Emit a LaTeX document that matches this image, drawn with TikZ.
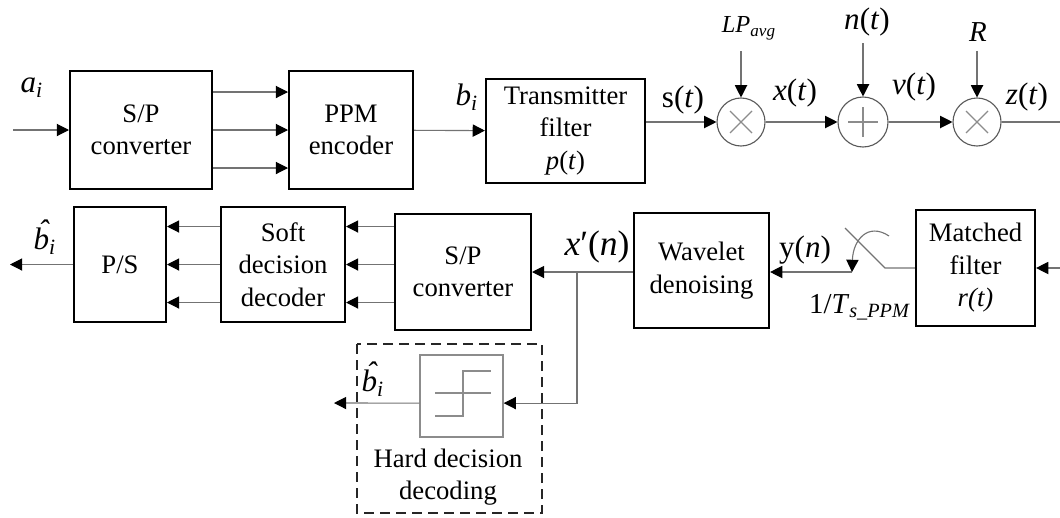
\documentclass[tikz,border=0pt]{standalone}
\usepackage{fontspec}
\setmainfont{Liberation Serif}
\usetikzlibrary{positioning,arrows.meta,calc}
\newcommand{\bhat}{\textit{b\llap{\raisebox{0.28em}{\char"02C6}\kern0.02em}}\textsubscript{\textit{i}}}

\begin{document}
\begin{tikzpicture}[
    x=0.45pt, y=-0.45pt,
    blk/.style={draw, line width=0.9pt, align=center, inner sep=0pt, font=\fontsize{12}{14.6}\selectfont},
    mix/.style={circle, draw=black!65, line width=0.5pt, minimum size=21.6pt, inner sep=0pt},
    sig/.style={draw=black!55, line width=0.5pt, -{Triangle[length=5.5pt,width=5.5pt,color=black]}},
    wire/.style={draw=black!55, line width=0.5pt},
    xline/.style={draw=black!45, line width=0.5pt},
    lbl/.style={font=\fontsize{14}{16}\selectfont, inner sep=1pt},
]
\useasboundingbox (0,0) rectangle (1060,517);

% transmitter chain
\node[blk, minimum width=63.9pt, minimum height=52.7pt] (sp1) at (141,130) {S/P\\converter};
\node[blk, minimum width=55.8pt, minimum height=52.7pt] (ppm) at (351,130) {PPM\\encoder};
\node[blk, minimum width=71.6pt, minimum height=46.8pt] (tx) at (565.5,131) {Transmitter\\filter\\\textit{p}(\textit{t})};
\node[mix] (m1) at (741,122) {};
\node[mix, minimum size=22.5pt] (add) at (863,122) {};
\node[mix] (m2) at (977,122) {};

\node[lbl] (ai) at (32,88) {\textit{a}\textsubscript{\textit{i}}};
\node[lbl] (bi) at (467,97) {\textit{b}\textsubscript{\textit{i}}};
\node[lbl] (st) at (683,100) {s(\textit{t})};
\node[lbl] (xt) at (795,93) {\textit{x}(\textit{t})};
\node[lbl] (vt) at (914,87) {\textit{v}(\textit{t})};
\node[lbl] (zt) at (1027,97) {\textit{z}(\textit{t})};
\node[lbl, font=\fontsize{11}{13}\selectfont] (lp) at (749,28) {\textit{LP}\textsubscript{\textit{avg}}};
\node[lbl] (nt) at (867,22) {\textit{n}(\textit{t})};
\node[lbl, font=\fontsize{13}{15}\selectfont] (rr) at (978,32) {\textit{R}};

\coordinate (ain) at (13,130);
\coordinate (zout) at (1060,122);

% symbols in the circles
\draw[xline] ([shift={(-11,-11)}]m1.center) -- ([shift={(11,11)}]m1.center);
\draw[xline] ([shift={(-11,11)}]m1.center) -- ([shift={(11,-11)}]m1.center);
\draw[xline] ([shift={(-15,0)}]add.center) -- ([shift={(15,0)}]add.center);
\draw[xline] ([shift={(0,-15)}]add.center) -- ([shift={(0,15)}]add.center);
\draw[xline] ([shift={(-11,-11)}]m2.center) -- ([shift={(11,11)}]m2.center);
\draw[xline] ([shift={(-11,11)}]m2.center) -- ([shift={(11,-11)}]m2.center);

\draw[sig] (ain) -- (sp1);
\foreach \dy in {-38,0,38}
    \draw[sig] ([shift={(0,\dy)}]sp1.east) -- ([shift={(0,\dy)}]ppm.west);
\draw[sig] (ppm) -- (tx);
\draw[sig] (tx.east |- m1) -- (m1);
\draw[sig] (m1) -- (add);
\draw[sig] (add) -- (m2);
\draw[wire] (m2) -- (zout);
\draw[sig, shorten <=4pt] (m1 |- lp.south) -- (m1);
\draw[sig, shorten <=2pt] (add |- nt.south) -- (add);
\draw[sig, shorten <=3pt] (m2 |- rr.south) -- (m2);

% receiver chain
\node[blk, minimum width=41.4pt, minimum height=51.8pt] (ps) at (120,264.5) {P/S};
\node[blk, minimum width=55.8pt, minimum height=51.8pt] (soft) at (283,264.5) {Soft\\decision\\decoder};
\node[blk, minimum width=61.2pt, minimum height=52.2pt] (sp2) at (463,272) {S/P\\converter};
\node[blk, minimum width=60.8pt, minimum height=51.8pt] (wav) at (701.5,270.5) {Wavelet\\denoising};
\node[blk, minimum width=53.6pt, minimum height=52.2pt] (mf) at (975.5,268) {Matched\\filter\\\textit{r(t)}};

\node[lbl] (bh1) at (45,237) {\bhat};
\node[lbl, font=\fontsize{16}{18}\selectfont] (xn) at (597,247) {\textit{x}′(\textit{n})};
\node[lbl] (yn) at (805,250) {y(\textit{n})};
\node[lbl, font=\fontsize{13}{15}\selectfont] (ts) at (860,307) {1/\textit{T}\textsubscript{\textit{s\_PPM}}};

\coordinate (psout) at (10,264.5);
\coordinate (jn) at (577,272);
\coordinate (swa) at (852,272);
\coordinate (swb) at (885,268);
\coordinate (swc) at (845,228);
\coordinate (arcs) at (889,236);
\coordinate (mfin) at (1060,268);

\foreach \dy [count=\i] in {-38,0,38} {
    \coordinate (s\i) at ($(soft.east)+(0,\dy)$);
    \draw[sig] ([shift={(0,\dy)}]soft.west) -- ([shift={(0,\dy)}]ps.east);
    \draw[sig] (sp2.west |- s\i) -- (s\i);
}
\draw[sig] (ps) -- (psout);
\draw[sig] (wav.west |- sp2.east) -- (sp2.east);
\draw[sig] (swa) -- (wav.east |- swa);
\draw[wire] (mf.west |- swb) -- (swb) -- (swc);
\draw[sig] (arcs) .. controls (868,222) and (853,240) .. (swa);
\draw[sig] (mfin) -- (mf.east |- mfin);

% hard decision branch
\node[draw=black!45, line width=0.6pt, minimum width=37.4pt, minimum height=36.9pt] (hd) at (461.5,396) {};
\draw[xline] ([shift={(-26.5,-3)}]hd.center) -- ++(56,0);
\draw[xline] ([shift={(-26.5,20)}]hd.center) -| ++(28,-45) -- ++(28,0);
\coordinate (hdout) at (334,403);
\draw[sig] (jn) |- ([yshift=-3.2pt]hd.east);
\draw[sig] ([yshift=-3.2pt]hd.west) -- (hdout);
\node[lbl] (bh2) at (373,379) {\bhat};
\node[blk, draw=none] (hdtxt) at (448,477) {Hard decision\\decoding};
\draw[black!85, line width=0.7pt, dash pattern=on 4.5pt off 2.7pt] (357,344) rectangle (542,513);
\end{tikzpicture}
\end{document}
